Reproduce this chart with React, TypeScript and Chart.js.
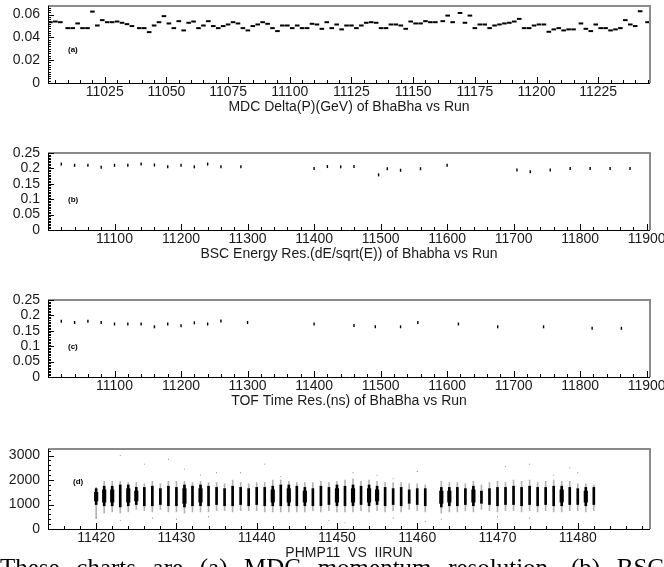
import React, { useEffect, useRef } from "react";
import { Chart, registerables } from "chart.js";
Chart.register(...registerables);

const W = 664;
const FONT = "'Liberation Sans', Arial, Helvetica, sans-serif";
const TXT = "#1a1a1a";
const XH = 37;

// ---------- (a) MDC Delta(P) ----------
const runsA = [
  11003, 11005, 11007, 11010, 11012, 11014, 11016, 11018, 11020, 11022,
  11024, 11026, 11028, 11030, 11032, 11034, 11036, 11039, 11041, 11043,
  11045, 11047, 11049, 11051, 11053, 11055, 11057, 11059, 11061, 11063,
  11065, 11067, 11069, 11071, 11073, 11075, 11077, 11079, 11081, 11083,
  11085, 11087, 11089, 11091, 11093, 11095, 11097, 11099, 11101, 11103,
  11105, 11107, 11109, 11111, 11113, 11115, 11117, 11119, 11121, 11123,
  11125, 11127, 11129, 11131, 11133, 11135, 11137, 11139, 11141, 11143,
  11145, 11147, 11149, 11151, 11153, 11155, 11157, 11159, 11162, 11164,
  11166, 11169, 11171, 11173, 11175, 11177, 11179, 11181, 11183, 11185,
  11187, 11189, 11191, 11193, 11195, 11197, 11199, 11201, 11203, 11205,
  11207, 11209, 11211, 11213, 11215, 11218, 11220, 11222, 11224, 11226,
  11228, 11230, 11232, 11234, 11236, 11238, 11240, 11242, 11245,
];
const valsA = [
  0.0533, 0.0539, 0.0533, 0.0481, 0.0481, 0.0522, 0.0481, 0.0481, 0.0626, 0.0504,
  0.0551, 0.0533, 0.0533, 0.0539, 0.0528, 0.0516, 0.0499, 0.0481, 0.0481, 0.0446,
  0.0504, 0.0533, 0.0586, 0.0522, 0.0481, 0.0542, 0.0461, 0.0528, 0.0539, 0.0481,
  0.0504, 0.0542, 0.0499, 0.0481, 0.0499, 0.0513, 0.0533, 0.0522, 0.0481, 0.0461,
  0.0499, 0.0513, 0.0533, 0.0519, 0.0481, 0.0455, 0.0504, 0.0504, 0.0481, 0.0504,
  0.0481, 0.0481, 0.0519, 0.0513, 0.0475, 0.0533, 0.0481, 0.0513, 0.047, 0.0504,
  0.0504, 0.0481, 0.0504, 0.0528, 0.0533, 0.0528, 0.0481, 0.0481, 0.0513, 0.0513,
  0.0504, 0.0475, 0.0539, 0.0522, 0.0522, 0.0542, 0.0533, 0.0533, 0.0542, 0.0591,
  0.0533, 0.0614, 0.0528, 0.0591, 0.0481, 0.0513, 0.0513, 0.0481, 0.0504, 0.0513,
  0.0522, 0.0528, 0.0539, 0.0562, 0.0481, 0.0481, 0.0504, 0.0513, 0.0513, 0.0449,
  0.047, 0.0481, 0.0461, 0.047, 0.047, 0.0522, 0.0475, 0.0455, 0.0513, 0.0481,
  0.0481, 0.0461, 0.047, 0.0481, 0.0551, 0.0513, 0.0499, 0.0629, 0.0533,
];
const xTicksA = [11025, 11050, 11075, 11100, 11125, 11150, 11175, 11200, 11225];
const yTicksA = [0, 0.02, 0.04, 0.06];
const yLabelsA = ["0", "0.02", "0.04", "0.06"];

// ---------- (b) BSC energy resolution ----------
const runsB = [
  11020, 11040, 11060, 11080, 11100, 11120, 11140, 11160, 11180, 11200,
  11220, 11240, 11260, 11290, 11400, 11420, 11440, 11460, 11497, 11510,
  11530, 11560, 11600, 11705, 11725, 11755, 11785, 11815, 11845, 11875,
];
const valsB = [
  0.214, 0.21, 0.21, 0.204, 0.21, 0.21, 0.214, 0.211, 0.205, 0.21,
  0.205, 0.214, 0.205, 0.205, 0.2, 0.206, 0.205, 0.206, 0.179, 0.199,
  0.194, 0.199, 0.21, 0.195, 0.189, 0.195, 0.2, 0.2, 0.2, 0.2,
];

// ---------- (c) TOF time resolution ----------
const runsC = [
  11020, 11040, 11060, 11080, 11100, 11120, 11140, 11160, 11180, 11200,
  11220, 11240, 11260, 11300, 11400, 11460, 11492, 11530, 11556, 11617,
  11676, 11745, 11818, 11862,
];
const valsC = [
  0.181, 0.177, 0.181, 0.177, 0.172, 0.172, 0.172, 0.163, 0.172, 0.166,
  0.176, 0.172, 0.182, 0.177, 0.172, 0.167, 0.163, 0.163, 0.177, 0.172,
  0.163, 0.163, 0.158, 0.158,
];
const xTicksBC = [11100, 11200, 11300, 11400, 11500, 11600, 11700, 11800, 11900];
const yTicksBC = [0, 0.05, 0.1, 0.15, 0.2, 0.25];
const yLabelsBC = ["0", "0.05", "0.1", "0.15", "0.2", "0.25"];

// ---------- (d) PHMP11 vs IIRUN ----------
const runsD = [
  11420, 11421, 11422, 11423, 11424, 11425, 11426, 11427, 11428, 11429,
  11430, 11431, 11432, 11433, 11434, 11435, 11436, 11437, 11438, 11439,
  11440, 11441, 11442, 11443, 11444, 11445, 11446, 11447, 11448, 11449,
  11450, 11451, 11452, 11453, 11454, 11455, 11456, 11457, 11458, 11459,
  11460, 11461, 11463, 11464, 11465, 11466, 11467, 11468, 11469, 11470,
  11471, 11472, 11473, 11474, 11475, 11476, 11477, 11478, 11479, 11480,
  11481, 11482,
];
const coreLoD = [
  1000, 950, 950, 900, 950, 1000, 950, 950, 1000, 950,
  950, 900, 950, 950, 950, 1000, 950, 950, 1000, 950,
  1000, 950, 950, 950, 950, 950, 950, 950, 950, 1000,
  950, 950, 950, 1000, 950, 1000, 950, 1000, 950, 1050,
  1000, 950, 900, 950, 950, 1000, 950, 1050, 1000, 950,
  1000, 1000, 950, 1000, 950, 1000, 950, 950, 1000, 1000,
  950, 1000,
];
const coreHiD = [
  1650, 1750, 1750, 1800, 1800, 1700, 1700, 1750, 1650, 1750,
  1700, 1800, 1750, 1800, 1750, 1700, 1650, 1750, 1700, 1650,
  1700, 1700, 1750, 1800, 1800, 1750, 1700, 1650, 1750, 1700,
  1800, 1750, 1800, 1750, 1800, 1750, 1700, 1650, 1700, 1600,
  1650, 1650, 1700, 1700, 1700, 1650, 1750, 1550, 1650, 1700,
  1700, 1750, 1700, 1750, 1700, 1700, 1750, 1750, 1700, 1650,
  1700, 1700,
];
const tailLoD = [
  450, 650, 700, 650, 700, 800, 750, 700, 800, 700,
  700, 650, 700, 700, 700, 750, 750, 700, 750, 750,
  750, 700, 700, 700, 700, 700, 700, 750, 700, 750,
  700, 700, 700, 750, 700, 750, 700, 750, 700, 800,
  750, 700, 650, 700, 700, 750, 700, 800, 750, 700,
  750, 750, 700, 750, 700, 750, 700, 700, 750, 750,
  700, 750,
];
const tailHiD = [
  1700, 1950, 1950, 1950, 1900, 1900, 1850, 1950, 1850, 1950,
  1950, 1950, 1900, 1950, 1900, 1900, 1850, 2000, 1900, 1850,
  1900, 1900, 2000, 2000, 1950, 1900, 1900, 1900, 1950, 1900,
  1950, 2000, 2050, 1950, 2000, 1950, 1900, 1900, 1900, 1850,
  1850, 1800, 1950, 1900, 1900, 1850, 1950, 1800, 1900, 1950,
  1900, 2000, 1950, 2000, 1900, 1950, 2000, 1950, 1950, 1850,
  1850, 1800,
];
// relative event density per run (1 = normal, 2 = heavy)
const densityD = [
  2, 2, 2, 1, 2, 2, 1, 1, 1, 1,
  1, 2, 1, 2, 1, 1, 1, 1, 1, 1,
  1, 1, 2, 1, 2, 1, 2, 1, 1, 1,
  2, 1, 2, 1, 2, 2, 1, 1, 1, 1,
  1, 1, 2, 2, 1, 1, 2, 1, 1, 1,
  1, 1, 1, 1, 1, 1, 1, 2, 1, 1,
  2, 1,
];
const outRunsD = [
  11423, 11426, 11429, 11431, 11433, 11435, 11438, 11441, 11443, 11452,
  11455, 11457, 11460, 11461, 11471, 11474, 11477, 11479, 11480, 11420,
  11423, 11427, 11430, 11434, 11449, 11451, 11457, 11463, 11470, 11474,
];
const outValsD = [
  3000, 2650, 2850, 2450, 2200, 2300, 2300, 2650, 2150, 2300,
  2200, 2050, 2350, 300, 2550, 2650, 2200, 2500, 2300, 450,
  350, 450, 400, 500, 350, 250, 450, 400, 500, 450,
];
const xTicksD = [11420, 11430, 11440, 11450, 11460, 11470, 11480];
const yTicksD = [0, 1000, 2000, 3000];
const yLabelsD = ["0", "1000", "2000", "3000"];

const CAPTION = "These charts are (a) MDC momentum resolution, (b) BSC";

type Cfg = {
  top: number; padTop: number; plotH: number;
  xMin: number; xMax: number; xTicks: number[]; xMinor: number;
  yMin: number; yMax: number; yTicks: number[]; yLabels: string[]; yMinor: number;
  title: string; tag: string; tagDx: number; tagDy: number;
};

function framePlugin(cfg: Cfg) {
  return {
    id: "frame",
    afterDraw(chart: any) {
      const { ctx, chartArea: a } = chart;
      const x = chart.scales.x;
      const y = chart.scales.y;
      ctx.save();
      ctx.strokeStyle = "#8a8a8a";
      ctx.lineWidth = 2;
      ctx.beginPath();
      ctx.moveTo(a.left, a.top);
      ctx.lineTo(a.right, a.top);
      ctx.lineTo(a.right, a.bottom);
      ctx.stroke();
      ctx.strokeStyle = "#000";
      ctx.lineWidth = 1;
      ctx.beginPath();
      ctx.moveTo(a.left + 0.5, a.top);
      ctx.lineTo(a.left + 0.5, a.bottom + 0.5);
      ctx.lineTo(a.right, a.bottom + 0.5);
      const nx0 = Math.ceil(cfg.xMin / cfg.xMinor - 1e-9);
      const nx1 = Math.floor(cfg.xMax / cfg.xMinor + 1e-9);
      for (let n = nx0; n <= nx1; n++) {
        const v = n * cfg.xMinor;
        const major = cfg.xTicks.some((t) => Math.abs(t - v) < 1e-6);
        const px = Math.round(x.getPixelForValue(v)) + 0.5;
        ctx.moveTo(px, a.bottom);
        ctx.lineTo(px, a.bottom - (major ? 6 : 3));
      }
      const ny0 = Math.ceil(cfg.yMin / cfg.yMinor - 1e-9);
      const ny1 = Math.floor(cfg.yMax / cfg.yMinor + 1e-9);
      for (let n = ny0; n <= ny1; n++) {
        const v = n * cfg.yMinor;
        const major = cfg.yTicks.some((t) => Math.abs(t - v) < cfg.yMinor * 1e-3);
        const py = Math.round(y.getPixelForValue(v)) + 0.5;
        ctx.moveTo(a.left, py);
        ctx.lineTo(a.left + (major ? 6 : 3), py);
      }
      ctx.stroke();
      ctx.fillStyle = "#000";
      ctx.font = `bold 8px ${FONT}`;
      ctx.textBaseline = "middle";
      ctx.textAlign = "left";
      ctx.fillText(cfg.tag, a.left + cfg.tagDx, a.top + cfg.tagDy);
      ctx.restore();
    },
  };
}

function scalesFor(cfg: Cfg) {
  const font = { family: FONT, size: 14 };
  return {
    x: {
      type: "linear",
      min: cfg.xMin,
      max: cfg.xMax,
      offset: false,
      afterBuildTicks: (s: any) => {
        s.ticks = cfg.xTicks.map((v) => ({ value: v }));
      },
      ticks: {
        autoSkip: false,
        maxRotation: 0,
        padding: 1,
        font,
        color: TXT,
        callback: (v: any) => String(v),
      },
      grid: { display: false, drawTicks: false, offset: false },
      border: { display: false },
      title: { display: true, text: cfg.title, font, color: TXT, padding: { top: 0, bottom: 4 } },
      afterFit: (s: any) => {
        s.height = XH;
        s.paddingLeft = 0;
        s.paddingRight = 0;
      },
    },
    y: {
      type: "linear",
      min: cfg.yMin,
      max: cfg.yMax,
      afterBuildTicks: (s: any) => {
        s.ticks = cfg.yTicks.map((v) => ({ value: v }));
      },
      ticks: {
        autoSkip: false,
        padding: 8,
        font,
        color: TXT,
        callback: (_v: any, i: number) => cfg.yLabels[i],
      },
      grid: { display: false, drawTicks: false },
      border: { display: false },
      afterFit: (s: any) => {
        s.width = 48;
        s.paddingTop = 0;
        s.paddingBottom = 0;
      },
    },
  };
}

function Panel({ cfg, type, datasets }: { cfg: Cfg; type: string; datasets: any[] }) {
  const ref = useRef<HTMLCanvasElement>(null);
  const h = cfg.padTop + cfg.plotH + XH;
  useEffect(() => {
    const chart = new Chart(ref.current as HTMLCanvasElement, {
      type: type as any,
      data: { datasets },
      options: {
        animation: false,
        responsive: false,
        maintainAspectRatio: false,
        events: [],
        layout: { padding: { top: cfg.padTop, right: 14, left: 0, bottom: 0 } },
        plugins: { legend: { display: false }, tooltip: { enabled: false } },
        scales: scalesFor(cfg) as any,
      },
      plugins: [framePlugin(cfg)],
    });
    return () => chart.destroy();
  }, []);
  return (
    <canvas
      ref={ref}
      width={W}
      height={h}
      style={{ position: "absolute", left: 0, top: cfg.top, width: W, height: h, display: "block" }}
    />
  );
}

const cfgA: Cfg = {
  top: 0, padTop: 4, plotH: 79,
  xMin: 11002, xMax: 11246, xTicks: xTicksA, xMinor: 5,
  yMin: 0, yMax: 0.0675, yTicks: yTicksA, yLabels: yLabelsA, yMinor: 0.002,
  title: "MDC Delta(P)(GeV) of BhaBha vs Run", tag: "(a)", tagDx: 20, tagDy: 44,
};
const cfgB: Cfg = {
  top: 143, padTop: 10, plotH: 77,
  xMin: 11000, xMax: 11905, xTicks: xTicksBC, xMinor: 20,
  yMin: 0, yMax: 0.25, yTicks: yTicksBC, yLabels: yLabelsBC, yMinor: 0.005,
  title: "BSC Energy Res.(dE/sqrt(E)) of Bhabha vs Run", tag: "(b)", tagDx: 20, tagDy: 47,
};
const cfgC: Cfg = {
  top: 290, padTop: 10, plotH: 77,
  xMin: 11000, xMax: 11905, xTicks: xTicksBC, xMinor: 20,
  yMin: 0, yMax: 0.25, yTicks: yTicksBC, yLabels: yLabelsBC, yMinor: 0.005,
  title: "TOF Time Res.(ns) of BhaBha vs Run", tag: "(c)", tagDx: 20, tagDy: 47,
};
const cfgD: Cfg = {
  top: 439, padTop: 10, plotH: 80,
  xMin: 11414, xMax: 11489, xTicks: xTicksD, xMinor: 2,
  yMin: 0, yMax: 3270, yTicks: yTicksD, yLabels: yLabelsD, yMinor: 200,
  title: "PHMP11  VS  IIRUN", tag: "(d)", tagDx: 25, tagDy: 33,
};

const pts = (xs: number[], ys: number[]) => xs.map((x, i) => ({ x, y: ys[i] }));

const dsA = [
  {
    type: "scatter",
    data: pts(runsA, valsA),
    pointStyle: "line",
    pointRadius: 2.3,
    pointBorderWidth: 2,
    borderColor: "#000",
    backgroundColor: "#000",
    showLine: false,
  },
];
const tickMark = (xs: number[], ys: number[]) => [
  {
    type: "scatter",
    data: pts(xs, ys),
    pointStyle: "line",
    rotation: 90,
    pointRadius: 1.5,
    pointBorderWidth: 1.4,
    borderColor: "#000",
    backgroundColor: "#000",
    showLine: false,
  },
];
const dsB = tickMark(runsB, valsB);
const dsC = tickMark(runsC, valsC);

const heavyIdx = densityD.map((d, i) => (d >= 2 ? i : -1)).filter((i) => i >= 0);
const dsD = [
  {
    type: "bar",
    data: runsD.map((r, i) => ({ x: r, y: [tailLoD[i], tailHiD[i]] })),
    backgroundColor: "rgba(0,0,0,0.3)",
    barThickness: 1,
    grouped: false,
  },
  {
    type: "bar",
    data: runsD.map((r, i) => ({ x: r, y: [coreLoD[i], coreHiD[i]] })),
    backgroundColor: "#000",
    barThickness: 2,
    grouped: false,
  },
  {
    type: "bar",
    data: heavyIdx.map((i) => ({ x: runsD[i], y: [coreLoD[i] + 150, coreHiD[i] - 150] })),
    backgroundColor: "#000",
    barThickness: 3.5,
    grouped: false,
  },
  {
    type: "scatter",
    data: pts(outRunsD, outValsD),
    pointStyle: "rect",
    pointRadius: 0.6,
    pointBorderWidth: 0,
    backgroundColor: "#666",
    borderColor: "#666",
    showLine: false,
  },
];

export default function App() {
  return (
    <div
      style={{
        position: "fixed",
        left: 0,
        top: 0,
        width: W,
        height: 567,
        overflow: "hidden",
        background: "#fff",
      }}
    >
      <Panel cfg={cfgA} type="scatter" datasets={dsA} />
      <Panel cfg={cfgB} type="scatter" datasets={dsB} />
      <Panel cfg={cfgC} type="scatter" datasets={dsC} />
      <Panel cfg={cfgD} type="bar" datasets={dsD} />
      <div
        style={{
          position: "absolute",
          left: 0,
          top: 555,
          width: W,
          whiteSpace: "nowrap",
          textAlign: "justify",
          textAlignLast: "justify",
          fontFamily: "'Liberation Serif', 'DejaVu Serif', serif",
          fontSize: 25,
          lineHeight: "25px",
          color: "#000",
        }}
      >
        {CAPTION}
      </div>
    </div>
  );
}
